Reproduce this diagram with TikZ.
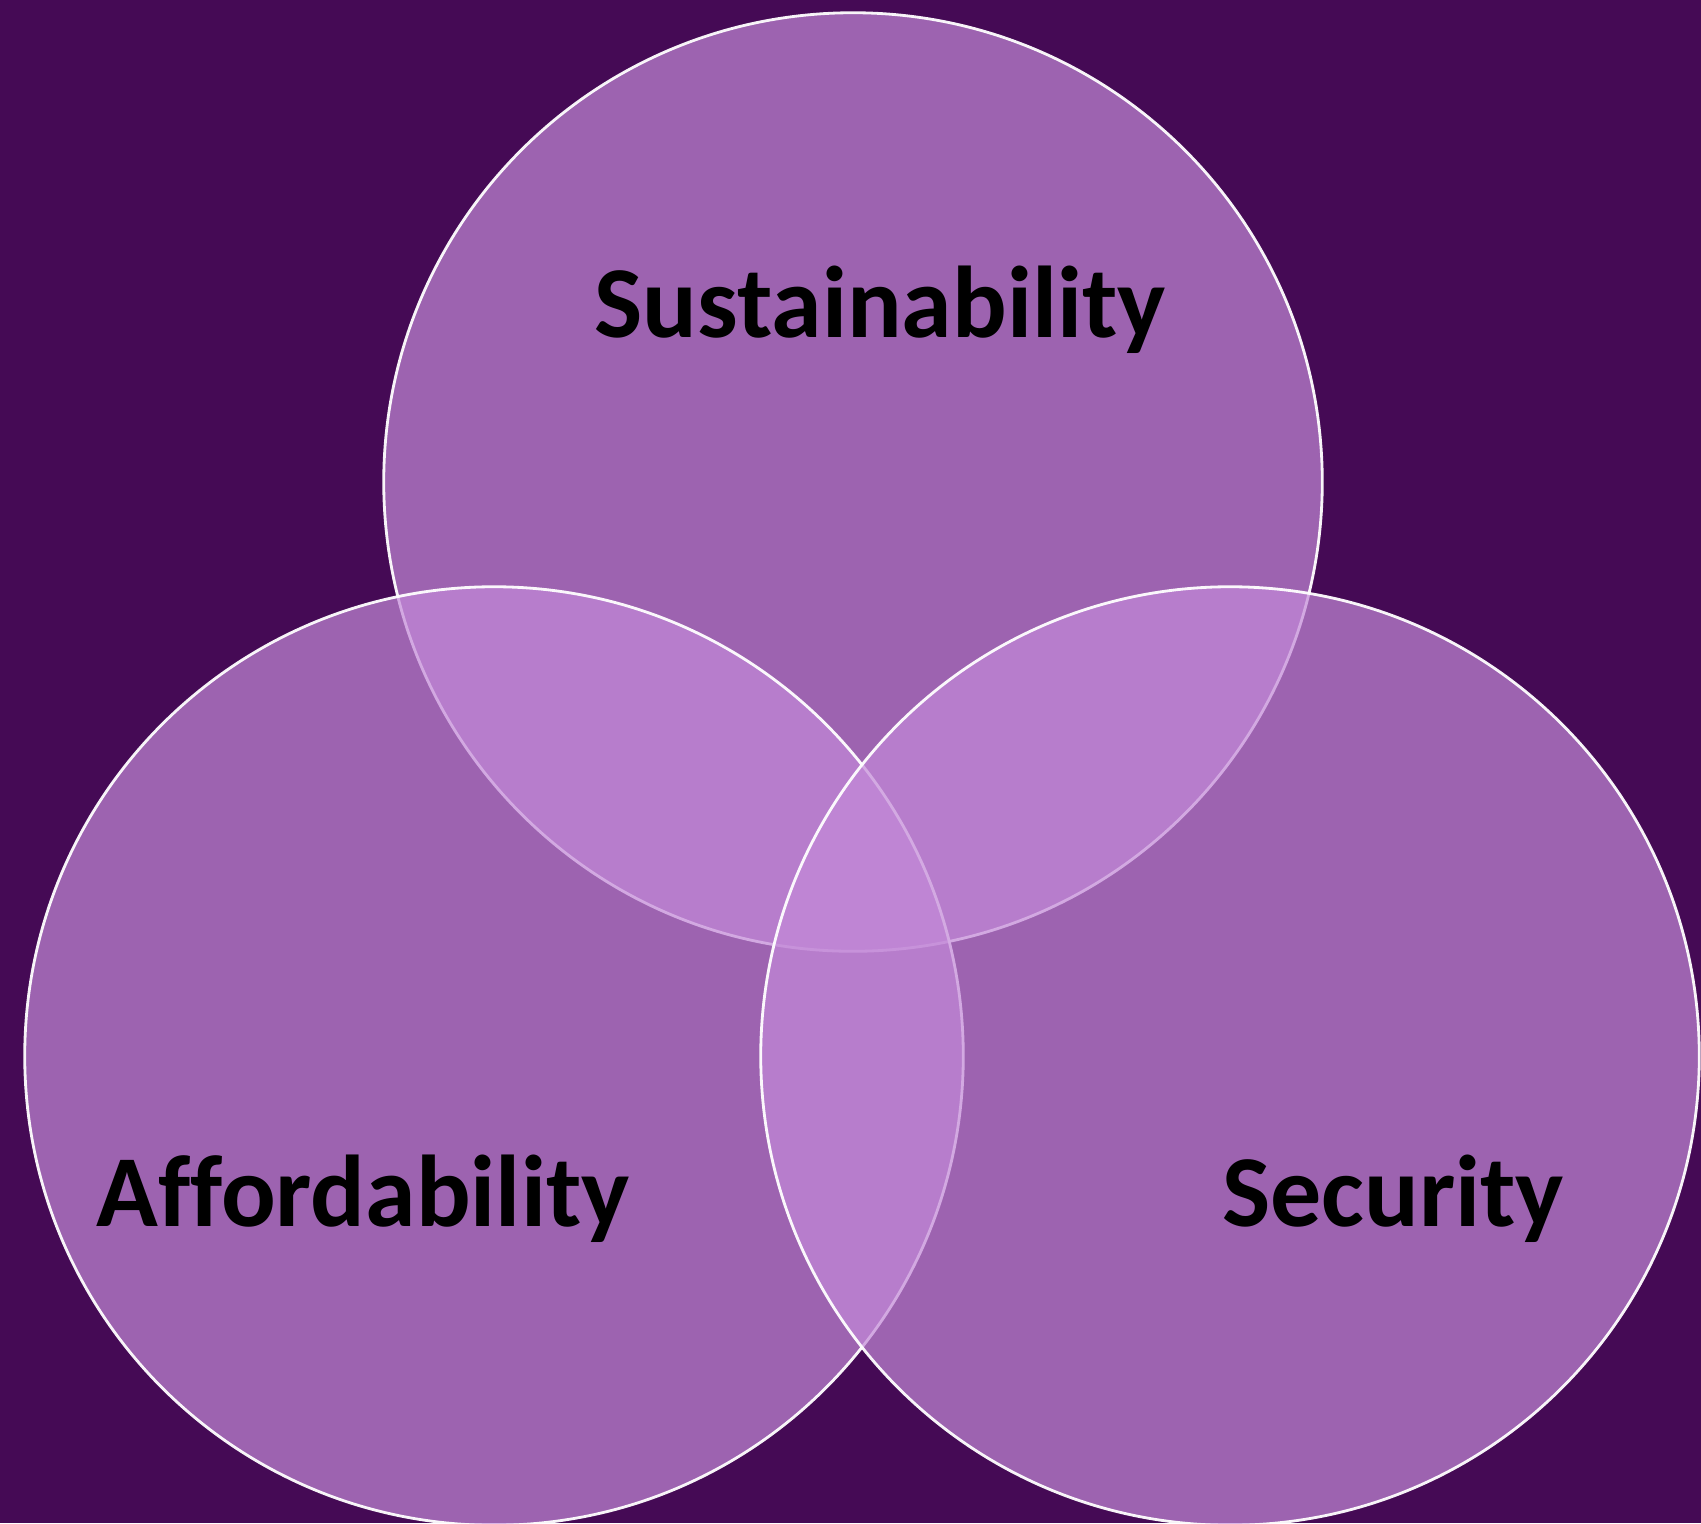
\documentclass[tikz,border=0pt]{standalone}
\usepackage{fontspec}
\setmainfont[Ligatures=NoCommon]{Carlito}
\definecolor{bgpurple}{RGB}{69,10,85}
\definecolor{ringpurple}{RGB}{195,137,216}

\begin{document}
\begin{tikzpicture}[x=0.01cm,y=-0.01cm,
    ring/.style={circle, draw=white, line width=0.8pt, fill=ringpurple,
                 fill opacity=0.7, draw opacity=0.95, inner sep=0pt,
                 minimum size=9.38cm},
    tag/.style={anchor=base, text=black, inner sep=0pt,
                font=\fontsize{29}{35}\selectfont\bfseries}]
  \useasboundingbox (0,0) rectangle (1701,1523);
  \clip (0,0) rectangle (1701,1523);
  \fill[bgpurple] (0,0) rectangle (1701,1523);

  % the three circles
  \node[ring] (sus) at (853,482)  {};
  \node[ring] (aff) at (494,1056) {};
  \node[ring] (sec) at (1230,1056) {};

  % labels
  \node[tag] (sustxt) at (880,337)  {Sustainability};
  \node[tag] (afftxt) at (363,1226) {Affordability};
  \node[tag] (sectxt) at (1393,1226) {Security};
\end{tikzpicture}
\end{document}
